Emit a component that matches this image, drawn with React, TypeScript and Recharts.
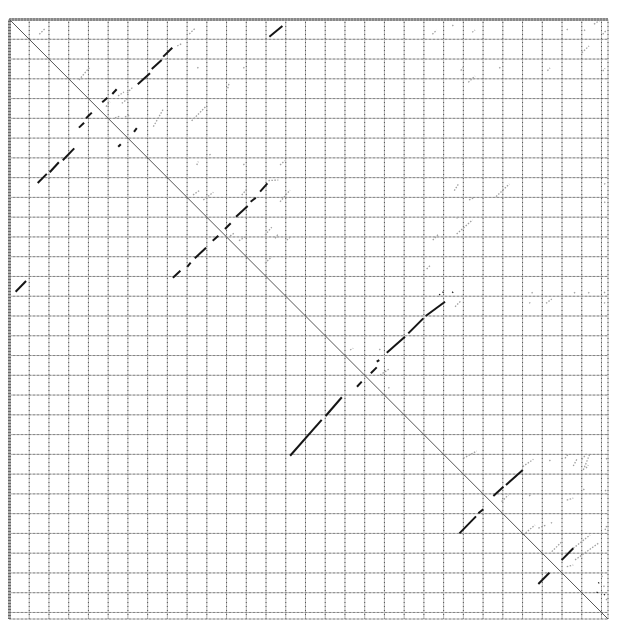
import React from 'react';
import { LineChart, Line, XAxis, YAxis, ReferenceLine } from 'recharts';

// Self dot-plot of a ~3033 bp sequence
const SEQ_LEN = 3033;
const diagonal = [
  { pos: 0, match: 0 },
  { pos: 3033, match: 3033 },
];
const gridTicks = [
  100, 200, 300, 400, 500, 600, 700, 800, 900, 1000,
  1100, 1200, 1300, 1400, 1500, 1600, 1700, 1800, 1900, 2000,
  2100, 2200, 2300, 2400, 2500, 2600, 2700, 2800, 2900, 3000,
];

// strong hits: [x1, y1, x2, y2]
const strongHits: number[][] = [
  [1317, 87, 1383, 33],
  [650, 328, 712, 272],
  [721, 250, 771, 205],
  [779, 188, 825, 143],
  [470, 419, 496, 396],
  [521, 377, 543, 353],
  [631, 568, 645, 550],
  [31, 1377, 84, 1323],
  [143, 827, 189, 781],
  [204, 773, 250, 722],
  [270, 712, 328, 652],
  [388, 500, 417, 471],
  [352, 547, 378, 522],
  [551, 644, 564, 631],
  [828, 1306, 866, 1271],
  [901, 1251, 918, 1230],
  [939, 1208, 996, 1155],
  [1030, 1119, 1058, 1094],
  [1092, 1060, 1121, 1031],
  [1148, 998, 1207, 944],
  [1222, 922, 1248, 902],
  [1270, 871, 1307, 829],
  [1422, 2207, 1582, 2026],
  [1602, 2006, 1684, 1911],
  [1761, 1858, 1785, 1832],
  [1831, 1790, 1861, 1760],
  [1861, 1731, 1874, 1723],
  [1912, 1686, 2004, 1605],
  [2021, 1588, 2097, 1512],
  [2109, 1500, 2207, 1428],
  [2280, 2600, 2364, 2514],
  [2376, 2498, 2401, 2478],
  [2452, 2411, 2503, 2364],
  [2516, 2355, 2601, 2279],
  [2680, 2856, 2736, 2799],
  [2798, 2735, 2857, 2675],
];
const strongDots: number[][] = [
  [2178, 1394], [2195, 1382], [2244, 1382],
  [2984, 2852], [2976, 2900], [3013, 2912],
];

// weak hits: [x1, y1, x2, y2]
const weakHits: number[][] = [
  [151, 75, 181, 45],
  [352, 306, 404, 244],
  [550, 387, 580, 367],
  [596, 372, 626, 341],
  [489, 441, 509, 416],
  [535, 498, 560, 488],
  [585, 493, 611, 483],
  [569, 424, 602, 399],
  [729, 542, 779, 454],
  [850, 134, 873, 122],
  [923, 513, 999, 436],
  [911, 73, 940, 45],
  [1106, 348, 1114, 318],
  [930, 888, 965, 863],
  [949, 736, 957, 719],
  [1013, 686, 1025, 677],
  [982, 913, 1033, 874],
  [1185, 736, 1197, 724],
  [1177, 888, 1202, 859],
  [1163, 1119, 1202, 1095],
  [1118, 1095, 1140, 1080],
  [1295, 1090, 1329, 1051],
  [1312, 815, 1362, 812],
  [1371, 922, 1422, 863],
  [1371, 736, 1396, 714],
  [1405, 1116, 1422, 1102],
  [1295, 1233, 1329, 1200],
  [1346, 1107, 1362, 1085],
  [2143, 75, 2165, 53],
  [2345, 65, 2359, 53],
  [2287, 259, 2297, 244],
  [2325, 318, 2359, 286],
  [2726, 259, 2739, 245],
  [2900, 168, 2937, 134],
  [2962, 24, 2993, 3],
  [3006, 75, 3026, 53],
  [3006, 261, 3018, 247],
  [2297, 736, 2305, 724],
  [2254, 866, 2274, 834],
  [2466, 896, 2533, 832],
  [2329, 913, 2354, 902],
  [2266, 1085, 2347, 1014],
  [2145, 1116, 2173, 1087],
  [2114, 1262, 2135, 1242],
  [2258, 1453, 2287, 1424],
  [2719, 1436, 2748, 1414],
  [1726, 1672, 1742, 1663],
  [1878, 1799, 1928, 1765],
  [2300, 2220, 2368, 2183],
  [2601, 2262, 2655, 2225],
  [2815, 2220, 2832, 2198],
  [2857, 2259, 2875, 2225],
  [2900, 2225, 2925, 2198],
  [2922, 2270, 2933, 2254],
  [2908, 2279, 2942, 2195],
  [2824, 2431, 2857, 2422],
  [2494, 2439, 2528, 2405],
  [2604, 2608, 2663, 2557],
  [2680, 2573, 2722, 2557],
  [2748, 2692, 2799, 2642],
  [2866, 2734, 2984, 2650],
  [2857, 2675, 2942, 2608],
  [2824, 2768, 2857, 2760],
  [3018, 2583, 3026, 2562],
];
const weakDots: number[][] = [
  [952, 247], [1185, 247], [2244, 33], [2482, 247], [2824, 53], [2912, 57],
  [3014, 834], [3014, 927], [2266, 1006], [2697, 1006], [2634, 1436], [2646, 1385],
  [2861, 1385], [2933, 1385], [3013, 1384], [3013, 1436], [1874, 1672], [1920, 1866],
  [2736, 2234], [3023, 2225], [2908, 2380], [3018, 2385], [2634, 2411], [2744, 2549],
  [3000, 2820], [3010, 2870], [3023, 2937],
];

export default function App() {
  return (
    <LineChart
      width={605}
      height={615}
      data={diagonal}
      margin={{ top: 11.5, right: 5, bottom: 4, left: 1.5 }}
    >
      <XAxis type="number" dataKey="pos" domain={[0, SEQ_LEN]} hide />
      <YAxis type="number" domain={[0, SEQ_LEN]} reversed hide />
      {gridTicks.map((t) => (
        <ReferenceLine key={'vg' + t} x={t} stroke="#b4b4b4" strokeWidth={1} />
      ))}
      {gridTicks.map((t) => (
        <ReferenceLine key={'hg' + t} y={t} stroke="#b4b4b4" strokeWidth={1} />
      ))}
      {gridTicks.map((t) => (
        <ReferenceLine key={'vd' + t} x={t} stroke="#555555" strokeWidth={1} strokeDasharray="1 3" />
      ))}
      {gridTicks.map((t) => (
        <ReferenceLine key={'hd' + t} y={t} stroke="#555555" strokeWidth={1} strokeDasharray="1 3" />
      ))}
      <ReferenceLine x={SEQ_LEN} stroke="#b4b4b4" />
      <ReferenceLine y={SEQ_LEN} stroke="#b4b4b4" />
      <ReferenceLine x={SEQ_LEN} stroke="#555555" strokeDasharray="1 3" />
      <ReferenceLine y={SEQ_LEN} stroke="#555555" strokeDasharray="1 3" />
      <ReferenceLine x={0} stroke="#aaaaaa" strokeWidth={3} />
      <ReferenceLine y={0} stroke="#aaaaaa" strokeWidth={3} />
      <ReferenceLine x={0} stroke="#666666" strokeWidth={3} strokeDasharray="1 2" />
      <ReferenceLine y={0} stroke="#666666" strokeWidth={3} strokeDasharray="1 2" />
      {weakHits.map((s, i) => (
        <ReferenceLine
          key={'w' + i}
          segment={[{ x: s[0], y: s[1] }, { x: s[2], y: s[3] }]}
          stroke="#a0a0a0"
          strokeWidth={1.3}
          strokeDasharray="1.5 1.5"
        />
      ))}
      {weakDots.map((p, i) => (
        <ReferenceLine
          key={'wd' + i}
          segment={[{ x: p[0], y: p[1] }, { x: p[0] + 5, y: p[1] - 5 }]}
          stroke="#a0a0a0"
          strokeWidth={1.3}
        />
      ))}
      <Line
        dataKey="match"
        stroke="#555555"
        strokeWidth={1}
        dot={false}
        isAnimationActive={false}
      />
      {strongHits.map((s, i) => (
        <ReferenceLine
          key={'s' + i}
          segment={[{ x: s[0], y: s[1] }, { x: s[2], y: s[3] }]}
          stroke="#151515"
          strokeWidth={2}
        />
      ))}
      {strongDots.map((p, i) => (
        <ReferenceLine
          key={'sd' + i}
          segment={[{ x: p[0], y: p[1] }, { x: p[0] + 4, y: p[1] - 4 }]}
          stroke="#151515"
          strokeWidth={1.5}
        />
      ))}
    </LineChart>
  );
}
